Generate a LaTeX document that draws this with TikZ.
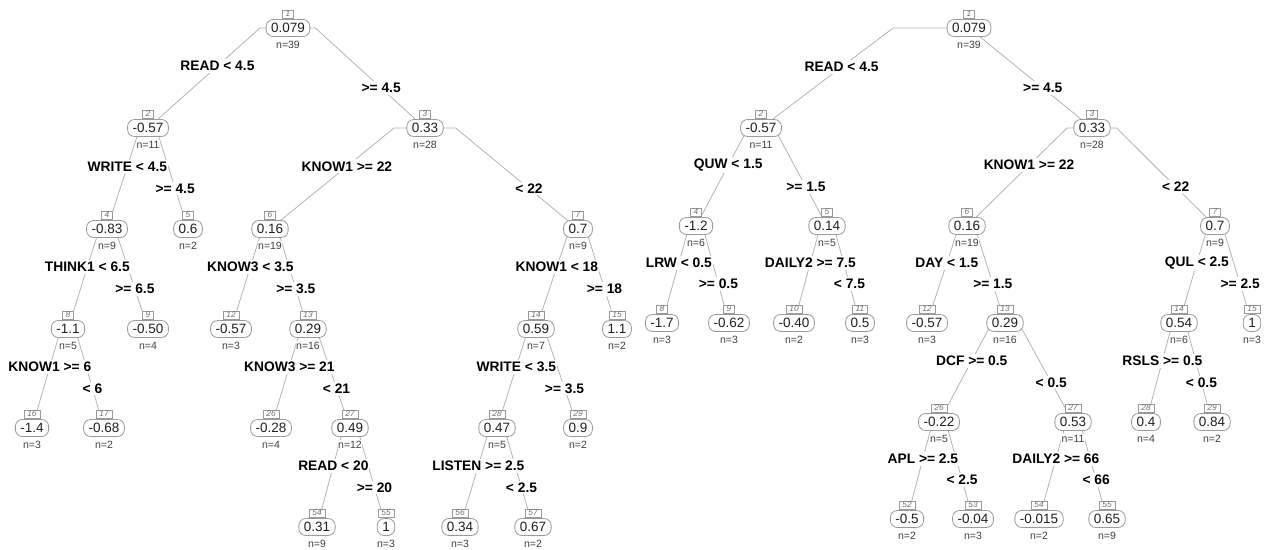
\documentclass[tikz,border=0pt]{standalone}
\usepackage{fontspec}
\setmainfont{Liberation Sans}
\usetikzlibrary{calc}
\pgfdeclarelayer{lines}
\pgfdeclarelayer{labels}
\pgfsetlayers{lines,labels,main}
\definecolor{edgegray}{HTML}{B4B4B4}
\definecolor{boxgray}{HTML}{9A9A9A}
\definecolor{numgray}{HTML}{707070}
\definecolor{txtdark}{HTML}{202020}
\definecolor{ngray}{HTML}{404040}
\tikzset{
 valbox/.style={draw=boxgray, line width=0.8pt, fill=white, rounded corners=7pt, minimum height=17pt, inner xsep=5pt, inner ysep=0pt, text=txtdark, font=\fontsize{13.5}{14}\selectfont},
 numbox/.style={draw=boxgray, line width=0.6pt, fill=white, inner xsep=3.3pt, inner ysep=1.2pt, text height=5.8pt, text depth=0pt, text=numgray, font=\fontsize{8.3}{8.3}\selectfont\itshape},
 ntext/.style={fill=white, inner sep=0.5pt, text=ngray, font=\fontsize{10.5}{11}\selectfont},
 lbl/.style={fill=white, inner xsep=1pt, inner ysep=2pt, font=\fontsize{13.8}{14}\selectfont\bfseries, text=black},
 edgeline/.style={draw=edgegray, line width=0.8pt},
}
\newcommand\tn[6]{%
 \node[valbox] (#1) at (#2,#3) {#5};
 \node[numbox] (#1num) at (#2,#3-14) {#4};
 \node[ntext] (#1n) at (#2,#3+16.5) {n=#6};
}
\newcommand\br[5]{%
 \begin{pgfonlayer}{lines}
 \draw[edgeline] let \p1=(#1.center), \p2=(#2.center) in (\p1) -- ({\x1+#3*(\x2-\x1)},\y1) -- coordinate[pos=#4] (#1#2pt) (\p2);
 \end{pgfonlayer}
 \begin{pgfonlayer}{labels}
 \node[lbl] (#1#2lbl) at (#1#2pt) {#5};
 \end{pgfonlayer}
}
\begin{document}
\begin{tikzpicture}[x=1pt,y=-1pt]
\useasboundingbox (0,0) rectangle (1274,549);
% ---------------- left tree ----------------
\tn{L1}{288}{28}{1}{0.079}{39}
\tn{L2}{148}{128}{2}{-0.57}{11}
\tn{L3}{425}{128}{3}{0.33}{28}
\tn{L4}{107}{229}{4}{-0.83}{9}
\tn{L5}{188}{229}{5}{0.6}{2}
\tn{L6}{270}{229}{6}{0.16}{19}
\tn{L7}{578}{229}{7}{0.7}{9}
\tn{L8}{68}{329}{8}{-1.1}{5}
\tn{L9}{148}{329}{9}{-0.50}{4}
\tn{L12}{231}{329}{12}{-0.57}{3}
\tn{L13}{308}{329}{13}{0.29}{16}
\tn{L14}{536}{329}{14}{0.59}{7}
\tn{L15}{617}{329}{15}{1.1}{2}
\tn{L16}{32}{428}{16}{-1.4}{3}
\tn{L17}{104}{428}{17}{-0.68}{2}
\tn{L26}{271}{428}{26}{-0.28}{4}
\tn{L27}{350}{428}{27}{0.49}{12}
\tn{L28}{497}{428}{28}{0.47}{5}
\tn{L29}{578}{428}{29}{0.9}{2}
\tn{L54}{317}{527}{54}{0.31}{9}
\tn{L55}{386}{527}{55}{1}{3}
\tn{L56}{460}{527}{56}{0.34}{3}
\tn{L57}{533}{527}{57}{0.67}{2}
% ---------------- right tree ----------------
\tn{R1}{969}{28}{1}{0.079}{39}
\tn{R2}{761}{128}{2}{-0.57}{11}
\tn{R3}{1092}{128}{3}{0.33}{28}
\tn{R4}{696}{226}{4}{-1.2}{6}
\tn{R5}{827}{226}{5}{0.14}{5}
\tn{R6}{967}{226}{6}{0.16}{19}
\tn{R7}{1215}{226}{7}{0.7}{9}
\tn{R8}{662}{323}{8}{-1.7}{3}
\tn{R9}{729}{323}{9}{-0.62}{3}
\tn{R10}{794}{323}{10}{-0.40}{2}
\tn{R11}{860}{323}{11}{0.5}{3}
\tn{R12}{927}{323}{12}{-0.57}{3}
\tn{R13}{1005}{323}{13}{0.29}{16}
\tn{R14}{1179}{323}{14}{0.54}{6}
\tn{R15}{1252}{323}{15}{1}{3}
\tn{R26}{939}{422}{26}{-0.22}{5}
\tn{R27}{1073}{422}{27}{0.53}{11}
\tn{R28}{1146}{422}{28}{0.4}{4}
\tn{R29}{1212}{422}{29}{0.84}{2}
\tn{R52}{907}{519}{52}{-0.5}{2}
\tn{R53}{973}{519}{53}{-0.04}{3}
\tn{R54}{1039}{519}{54}{-0.015}{2}
\tn{R55}{1107}{519}{55}{0.65}{9}
% left tree branches
\br{L1}{L2}{0.2}{0.38}{READ < 4.5}
\br{L1}{L3}{0.2}{0.6}{>= 4.5}
\br{L2}{L4}{0.2}{0.38}{WRITE < 4.5}
\br{L2}{L5}{0.2}{0.6}{>= 4.5}
\br{L3}{L6}{0.2}{0.38}{KNOW1 >= 22}
\br{L3}{L7}{0.2}{0.6}{< 22}
\br{L4}{L8}{0.2}{0.38}{THINK1 < 6.5}
\br{L4}{L9}{0.2}{0.6}{>= 6.5}
\br{L6}{L12}{0.2}{0.38}{KNOW3 < 3.5}
\br{L6}{L13}{0.2}{0.6}{>= 3.5}
\br{L7}{L14}{0.2}{0.38}{KNOW1 < 18}
\br{L7}{L15}{0.2}{0.6}{>= 18}
\br{L8}{L16}{0.2}{0.38}{KNOW1 >= 6}
\br{L8}{L17}{0.2}{0.6}{< 6}
\br{L13}{L26}{0.2}{0.38}{KNOW3 >= 21}
\br{L13}{L27}{0.2}{0.6}{< 21}
\br{L14}{L28}{0.2}{0.38}{WRITE < 3.5}
\br{L14}{L29}{0.2}{0.6}{>= 3.5}
\br{L27}{L54}{0.2}{0.38}{READ < 20}
\br{L27}{L55}{0.2}{0.6}{>= 20}
\br{L28}{L56}{0.2}{0.38}{LISTEN >= 2.5}
\br{L28}{L57}{0.2}{0.6}{< 2.5}
% right tree branches
\br{R1}{R2}{0.365}{0.39}{READ < 4.5}
\br{R1}{R3}{0}{0.6}{>= 4.5}
\br{R2}{R4}{0.2}{0.38}{QUW < 1.5}
\br{R2}{R5}{0.2}{0.6}{>= 1.5}
\br{R3}{R6}{0.2}{0.38}{KNOW1 >= 22}
\br{R3}{R7}{0.2}{0.6}{< 22}
\br{R4}{R8}{0.2}{0.38}{LRW < 0.5}
\br{R4}{R9}{0.2}{0.6}{>= 0.5}
\br{R5}{R10}{0.2}{0.38}{DAILY2 >= 7.5}
\br{R5}{R11}{0.2}{0.6}{< 7.5}
\br{R6}{R12}{0.2}{0.38}{DAY < 1.5}
\br{R6}{R13}{0.2}{0.6}{>= 1.5}
\br{R7}{R14}{0.2}{0.38}{QUL < 2.5}
\br{R7}{R15}{0.2}{0.6}{>= 2.5}
\br{R13}{R26}{0.2}{0.38}{DCF >= 0.5}
\br{R13}{R27}{0.2}{0.6}{< 0.5}
\br{R14}{R28}{0.2}{0.38}{RSLS >= 0.5}
\br{R14}{R29}{0.2}{0.6}{< 0.5}
\br{R26}{R52}{0.2}{0.38}{APL >= 2.5}
\br{R26}{R53}{0.2}{0.6}{< 2.5}
\br{R27}{R54}{0.2}{0.38}{DAILY2 >= 66}
\br{R27}{R55}{0.2}{0.6}{< 66}
\end{tikzpicture}
\end{document}
